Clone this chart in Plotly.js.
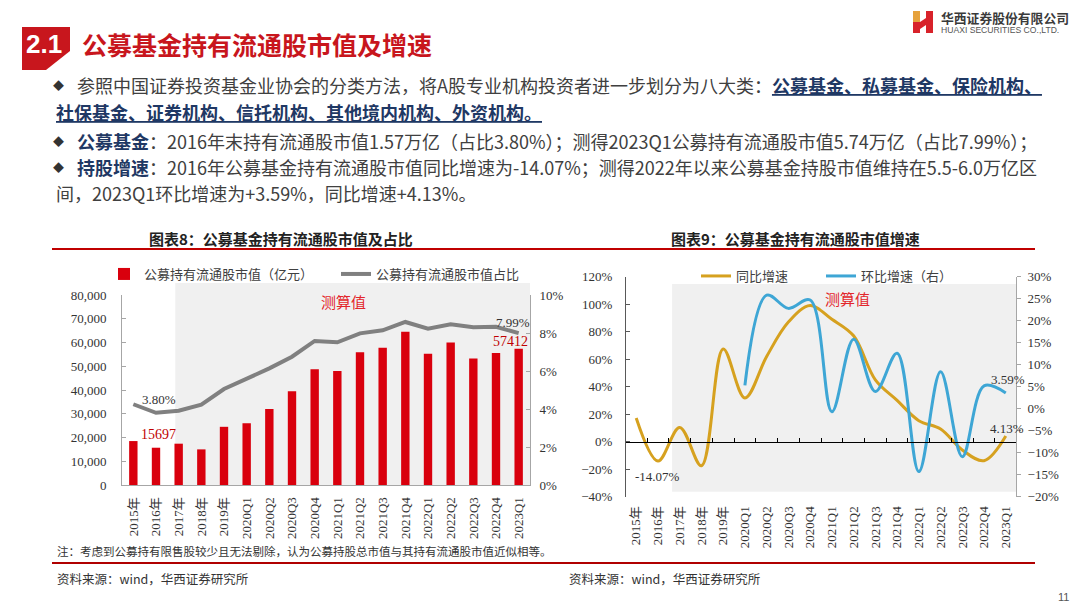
<!DOCTYPE html>
<html><head><meta charset="utf-8">
<script src="https://cdn.plot.ly/plotly-3.0.1.min.js"></script>
<style>html,body{margin:0;padding:0;background:#fff;}#chart{width:1080px;height:605px;}</style>
</head><body><div id="chart"></div>
<script>
// ---------- data ----------
const categories = ['2015年','2016年','2017年','2018年','2019年','2020Q1','2020Q2','2020Q3','2020Q4','2021Q1','2021Q2','2021Q3','2021Q4','2022Q1','2022Q2','2022Q3','2022Q4','2023Q1'];
const holdValue = [18500,15697,17400,15000,24500,26000,32000,39500,48700,48000,55900,57800,64500,55300,60000,53300,55600,57412];
const holdShare = [4.25,3.80,3.91,4.23,5.05,5.60,6.14,6.75,7.58,7.51,7.98,8.14,8.58,8.23,8.46,8.30,8.33,7.99];
const yoyGrowth = [17.2,-14.07,10.4,-17.5,67.4,31.8,62,87,99,89,77,45,30,15.3,9.2,-6,-13.8,4.13];
const qoqGrowth = [null,null,null,null,null,5.3,25.8,22.8,24.7,-0.7,15.8,3.9,12.6,-14.3,8.4,-10.9,5.2,3.59];
const leftTicks = [0,10000,20000,30000,40000,50000,60000,70000,80000];
const seriesNames = ['公募持有流通股市值（亿元）','公募持有流通股市值占比','同比增速','环比增速（右）'];

// ---------- helpers ----------
const W = 1080, H = 605;
const px = x => x / W, py = y => 1 - y / H;
const CJK = '"Noto Sans CJK SC", "Noto Sans", sans-serif';
const SERIF = '"Liberation Serif", "Noto Sans CJK SC", serif';
const tickFont = {family: SERIF, size: 13, color: '#333'};

const traces = [
  {type:'bar', x:categories, y:holdValue, name:seriesNames[0], xaxis:'x', yaxis:'y',
   marker:{color:'#D9000D'}, legend:'legend', hoverinfo:'skip'},
  {type:'scatter', mode:'lines', x:categories, y:holdShare, name:seriesNames[1], xaxis:'x', yaxis:'y2',
   line:{color:'#808080', width:4}, legend:'legend', hoverinfo:'skip'},
  {type:'scatter', mode:'lines', x:categories, y:yoyGrowth, name:seriesNames[2], xaxis:'x3', yaxis:'y3',
   line:{color:'#D6A11F', width:3, shape:'spline', smoothing:1}, legend:'legend2', hoverinfo:'skip'},
  {type:'scatter', mode:'lines', x:categories, y:qoqGrowth, name:seriesNames[3], xaxis:'x3', yaxis:'y4',
   line:{color:'#3EA6D5', width:3, shape:'spline', smoothing:1}, legend:'legend2', hoverinfo:'skip'},
  // carrier for the zero-line axis of the right chart
  {type:'scatter', mode:'lines', x:categories, y:categories.map(()=>null), xaxis:'x4', yaxis:'y3',
   showlegend:false, hoverinfo:'skip'}
];

const lDom = [px(122), px(530)], lY = [py(485), py(295)];
const rDom = [px(626), px(1016)], rY = [py(496.7), py(276.7)];
const rZero = rY[0] + (rY[1]-rY[0]) * 0.25;

const layout = {
  width: W, height: H, margin:{l:0,r:0,t:0,b:0}, autosize:false,
  paper_bgcolor:'#fff', plot_bgcolor:'rgba(0,0,0,0)', showlegend:true,
  bargap:0.63,
  xaxis:{domain:lDom, anchor:'y', type:'category', categoryarray:categories, range:[-0.5,17.5],
    tickangle:-90, tickfont:tickFont, showline:true, linecolor:'#A6A6A6', linewidth:1,
    ticks:'', ticklabelstandoff:6, showgrid:false, zeroline:false, automargin:false, fixedrange:true},
  yaxis:{domain:lY, anchor:'x', range:[0,80000], tickvals:leftTicks, tickformat:',d', tickfont:tickFont,
    showline:true, linecolor:'#A6A6A6', ticks:'inside', ticklen:4, tickcolor:'#A6A6A6',
    showgrid:false, zeroline:false, automargin:false, ticklabelstandoff:12},
  yaxis2:{overlaying:'y', side:'right', anchor:'x', range:[0,10], dtick:2, ticksuffix:'%', tickfont:tickFont,
    showline:true, linecolor:'#A6A6A6', ticks:'inside', ticklen:4, tickcolor:'#A6A6A6',
    showgrid:false, zeroline:false, automargin:false, ticklabelstandoff:6},
  xaxis3:{domain:rDom, anchor:'y3', type:'category', categoryarray:categories, range:[-0.47,17.47],
    tickangle:-90, tickfont:tickFont, showline:false, ticks:'', ticklabelstandoff:6,
    showgrid:false, zeroline:false, automargin:false},
  xaxis4:{overlaying:'x3', anchor:'free', position:rZero, type:'category', categoryarray:categories,
    range:[-0.47,17.47], tickson:'boundaries', ticks:'inside', ticklen:4, tickcolor:'#000',
    showline:true, linecolor:'#000', linewidth:1, showticklabels:false, showgrid:false, zeroline:false},
  yaxis3:{domain:rY, anchor:'x3', range:[-40,120], dtick:20, ticksuffix:'%', tickfont:tickFont,
    showline:true, linecolor:'#595959', ticks:'inside', ticklen:4, tickcolor:'#595959',
    showgrid:false, zeroline:false, automargin:false, ticklabelstandoff:10},
  yaxis4:{overlaying:'y3', side:'right', anchor:'x3', range:[-20,30], dtick:5, ticksuffix:'%', tickfont:tickFont,
    showline:true, linecolor:'#A6A6A6', ticks:'outside', ticklen:4, tickcolor:'#A6A6A6',
    showgrid:false, zeroline:false, automargin:false, ticklabelstandoff:4},
  legend:{orientation:'h', x:px(104), y:py(274), xanchor:'left', yanchor:'middle',
    font:{family:CJK, size:13, color:'#404040'}, bgcolor:'rgba(0,0,0,0)', itemwidth:30,
    entrywidthmode:'pixels', entrywidth:187},
  legend2:{orientation:'h', x:px(696), y:py(276), xanchor:'left', yanchor:'middle',
    font:{family:CJK, size:13, color:'#404040'}, bgcolor:'rgba(0,0,0,0)', itemwidth:30,
    entrywidthmode:'pixels', entrywidth:80},
  shapes:[
    // header block
    {type:'path', xref:'paper', yref:'paper', layer:'above',
     path:`M ${px(22)},${py(27)} L ${px(70)},${py(27)} L ${px(70)},${py(51)} L ${px(46)},${py(70)} L ${px(22)},${py(70)} Z`,
     fillcolor:'#C8161D', line:{width:0}},
    // logo
    {type:'rect', xref:'paper', yref:'paper', x0:px(913), x1:px(920), y0:py(22), y1:py(11), fillcolor:'#E6A23C', line:{width:0}},
    {type:'path', xref:'paper', yref:'paper',
     path:`M ${px(913)},${py(22)} L ${px(920)},${py(22)} L ${px(926)},${py(18)} L ${px(926)},${py(11)} L ${px(933)},${py(11)} L ${px(933)},${py(33)} L ${px(926)},${py(33)} L ${px(926)},${py(25)} L ${px(920)},${py(29)} L ${px(920)},${py(33)} L ${px(913)},${py(33)} Z`,
     fillcolor:'#D8222A', line:{width:0}},
    // chart title rule
    {type:'line', xref:'paper', yref:'paper', x0:px(52), x1:px(1035), y0:py(249), y1:py(249), line:{color:'#C00000', width:2}},
    // footer rule
    {type:'line', xref:'paper', yref:'paper', x0:px(52), x1:px(1035), y0:py(563), y1:py(563), line:{color:'#B00000', width:2}},
    // estimate shading
    {type:'rect', xref:'x', yref:'paper', x0:1.85, x1:17.5, y0:lY[0], y1:py(283), fillcolor:'#F0F0F0', line:{width:0}, layer:'below'},
    {type:'rect', xref:'x3', yref:'paper', x0:1.65, x1:17.47, y0:py(491.7), y1:py(284), fillcolor:'#F0F0F0', line:{width:0}, layer:'below'}
  ],
  annotations:[]
};

const A = layout.annotations;
function txt(text, x, y, opt={}) {
  A.push(Object.assign({text, x:px(x), y:py(y), xref:'paper', yref:'paper', showarrow:false,
    xanchor:'left', yanchor:'middle', font:{family:CJK, size:18, color:'#404040'}}, opt));
}
// header
txt('<b>2.1</b>', 44, 44, {xanchor:'center', font:{family:'"Liberation Sans", Arial, sans-serif', size:26, color:'#fff'}});
txt('<b>公募基金持有流通股市值及增速</b>', 80, 44, {font:{family:CJK, size:25, color:'#C8161D'}});
txt('<b>华西证券股份有限公司</b>', 939, 17, {font:{family:CJK, size:12.8, color:'#3A3A3A'}});
txt('HUAXI SECURITIES CO.,LTD.', 939, 30, {font:{family:'"Liberation Sans", Arial, sans-serif', size:8.6, color:'#555'}});
// bullets
const NAVY = '#1F3864';
const dia = y => txt('◆', 58, y, {xanchor:'center', font:{family:CJK, size:11, color:'#333'}});
dia(85); dia(141); dia(167);
txt(`参照中国证券投资基金业协会的分类方法，将A股专业机构投资者进一步划分为八大类：<span style="color:${NAVY}"><b><u>公募基金、私募基金、保险机构、</u></b></span>`, 75, 85);
txt(`<span style="color:${NAVY}"><b><u>社保基金、证券机构、信托机构、其他境内机构、外资机构。</u></b></span>`, 54, 112);
txt(`<span style="color:${NAVY}"><b>公募基金</b></span>：2016年末持有流通股市值1.57万亿（占比3.80%）；测得2023Q1公募持有流通股市值5.74万亿（占比7.99%）；`, 75, 141);
txt(`<span style="color:${NAVY}"><b>持股增速</b></span>：2016年公募基金持有流通股市值同比增速为-14.07%；测得2022年以来公募基金持股市值维持在5.5-6.0万亿区`, 75, 167);
txt('间，2023Q1环比增速为+3.59%，同比增速+4.13%。', 54, 193);
// chart titles
txt('<b>图表8：公募基金持有流通股市值及占比</b>', 281, 238, {xanchor:'center', font:{family:CJK, size:15, color:'#222'}});
txt('<b>图表9：公募基金持有流通股市值增速</b>', 795, 238, {xanchor:'center', font:{family:CJK, size:15, color:'#222'}});
// estimate labels
txt('测算值', 343, 301, {xanchor:'center', font:{family:CJK, size:15, color:'#E3262B'}});
txt('测算值', 847, 298, {xanchor:'center', font:{family:CJK, size:15, color:'#E3262B'}});
// footer
txt('注：考虑到公募持有限售股较少且无法剔除，认为公募持股总市值与其持有流通股市值近似相等。', 55, 551, {font:{family:CJK, size:11.5, color:'#333'}});
txt('资料来源：wind，华西证券研究所', 55, 578, {font:{family:CJK, size:12.5, color:'#333'}});
txt('资料来源：wind，华西证券研究所', 567, 578, {font:{family:CJK, size:12.5, color:'#333'}});
txt('11', 1063, 597, {xanchor:'center', font:{family:'"Liberation Sans", sans-serif', size:11, color:'#555'}});

// data labels
function lab(text, xr, yr, xv, yv, xs, ys, color, size) {
  A.push({text, xref:xr, yref:yr, x:xv, y:yv, xshift:xs, yshift:ys, showarrow:false,
    xanchor:'center', yanchor:'middle', font:{family:SERIF, size:size||13, color:color||'#333'}});
}
lab('3.80%', 'x', 'y2', categories[1], holdShare[1], 3, 13);
lab(String(holdValue[1]), 'x', 'y', categories[1], holdValue[1], 2, 13, '#C00000', 14);
lab('7.99%', 'x', 'y2', categories[17], holdShare[17], -6, 11);
lab(String(holdValue[17]), 'x', 'y', categories[17], holdValue[17], -8, 7, '#C00000', 14);
lab('-14.07%', 'x3', 'y3', categories[1], yoyGrowth[1], 0, -15);
lab('4.13%', 'x3', 'y3', categories[17], yoyGrowth[17], 1, 8);
lab('3.59%', 'x3', 'y4', categories[17], qoqGrowth[17], 2, 13);

Plotly.newPlot('chart', traces, layout, {staticPlot:true, displayModeBar:false});
</script></body></html>
